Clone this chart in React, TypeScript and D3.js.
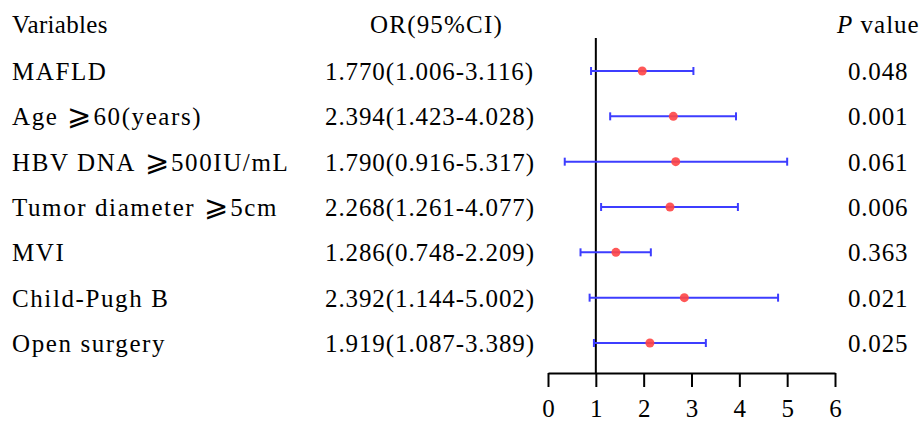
import { useEffect, useRef } from "react";
import * as d3 from "d3";

// label parts: text before the "⩾" sign and text after it (empty when absent)
const variables = [
  ["MAFLD", ""],
  ["Age", "60(years)"],
  ["HBV DNA", "500IU/mL"],
  ["Tumor diameter", "5cm"],
  ["MVI", ""],
  ["Child-Pugh B", ""],
  ["Open surgery", ""],
];
const orText = [
  "1.770(1.006-3.116)",
  "2.394(1.423-4.028)",
  "1.790(0.916-5.317)",
  "2.268(1.261-4.077)",
  "1.286(0.748-2.209)",
  "2.392(1.144-5.002)",
  "1.919(1.087-3.389)",
];
const pValues = ["0.048", "0.001", "0.061", "0.006", "0.363", "0.021", "0.025"];
// plotted positions
const estimate = [1.97, 2.62, 2.67, 2.55, 1.42, 2.85, 2.13];
const lower = [0.9, 1.3, 0.35, 1.11, 0.68, 0.87, 0.96];
const upper = [3.04, 3.93, 5.0, 3.97, 2.15, 4.81, 3.3];
const xTicks = [0, 1, 2, 3, 4, 5, 6];

const W = 921;
const H = 421;
const font = "'Liberation Serif', 'Times New Roman', serif";

export default function App() {
  const axisRef = useRef<SVGGElement>(null);

  const x = d3.scaleLinear().domain([0, 6]).range([548, 835]);
  const y = d3
    .scalePoint<number>()
    .domain(d3.range(variables.length))
    .range([71, 343]);
  const axisY = 373;

  useEffect(() => {
    document.body.style.margin = "0";
    const g = d3.select(axisRef.current);
    g.selectAll("*").remove();
    g.call(d3.axisBottom(x).tickValues(xTicks).tickSize(14).tickSizeOuter(0).tickFormat(d3.format("d")));
    g.select(".domain").attr("stroke-width", 2).attr("stroke", "#000");
    g.selectAll(".tick line").attr("stroke-width", 2).attr("stroke", "#000");
    g.selectAll(".tick text")
      .attr("y", 44)
      .attr("dy", 0)
      .attr("fill", "#000")
      .style("font-size", "25px")
      .style("font-family", font);
  }, []);

  const rowBase = (i: number) => (y(i) ?? 0) + 9;

  return (
    <svg width={W} height={H} style={{ display: "block", background: "#fff" }}>
      <g fontFamily={font} fontSize={25} fill="#000">
        <text x={12} y={33} letterSpacing={0.3}>Variables</text>
        <text x={370} y={33} letterSpacing={1.2}>OR(95%CI)</text>
        <text x={837} y={33} letterSpacing={1}>
          <tspan fontStyle="italic">P</tspan> value
        </text>
        {variables.map(([a, b], i) => (
          <text key={a} x={12} y={rowBase(i)} letterSpacing={1.6}>
            {a}
            {b && (
              <>
                <tspan dx={9} fontSize={29} letterSpacing={0}>{"\u2A7E"}</tspan>
                <tspan dx={2}>{b}</tspan>
              </>
            )}
          </text>
        ))}
        {orText.map((t, i) => (
          <text key={t} x={325} y={rowBase(i)} letterSpacing={0.9}>
            {t}
          </text>
        ))}
        {pValues.map((p, i) => (
          <text key={i} x={848} y={rowBase(i)} letterSpacing={0.8}>
            {p}
          </text>
        ))}
      </g>

      <line x1={x(1)} x2={x(1)} y1={38} y2={axisY} stroke="#000" strokeWidth={2} />

      {estimate.map((e, i) => {
        const cy = y(i) ?? 0;
        return (
          <g key={i}>
            <line x1={x(lower[i])} x2={x(upper[i])} y1={cy} y2={cy} stroke="#3d3dff" strokeWidth={2} />
            <line x1={x(lower[i])} x2={x(lower[i])} y1={cy - 4} y2={cy + 4} stroke="#3d3dff" strokeWidth={2} />
            <line x1={x(upper[i])} x2={x(upper[i])} y1={cy - 4} y2={cy + 4} stroke="#3d3dff" strokeWidth={2} />
            <circle cx={x(e)} cy={cy} r={4.5} fill="#ff4545" fillOpacity={0.9} />
          </g>
        );
      })}

      <g ref={axisRef} transform={`translate(0,${axisY})`} />
    </svg>
  );
}
